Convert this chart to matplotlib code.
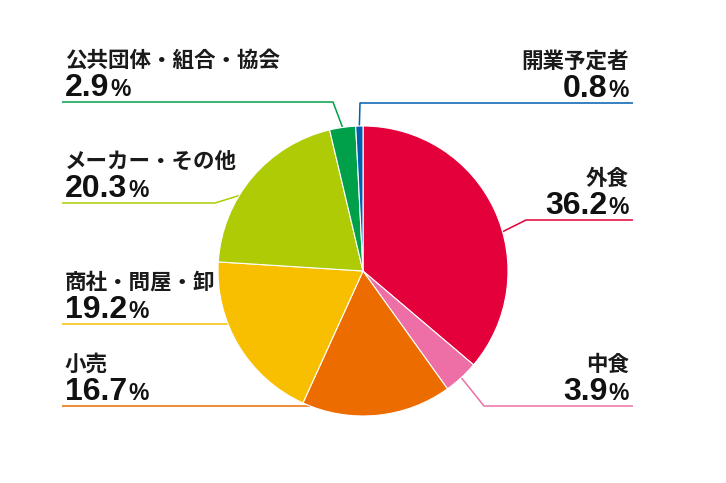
import matplotlib.pyplot as plt
import numpy as np

# Data
labels = ['外食', '中食', '小売', '商社・問屋・卸', 'メーカー・その他', '公共団体・組合・協会', '開業予定者']
shares = [36.2, 3.9, 16.7, 19.2, 20.3, 2.9, 0.8]
colors = ['#e4003a', '#ee6fa5', '#ec6c00', '#f8be00', '#aecb06', '#00a04a', '#005fb0']

# Label layout (pixel coords, top-down): side, leader y, elbow x, where leader meets wedge (0..1 along wedge)
sides = ['right', 'right', 'left', 'left', 'left', 'left', 'right']
line_y = [220, 406, 406, 324, 203, 102, 103]
elbow_x = [526, 484, None, None, 215, 333, 360]
anchor_frac = [0.57, 0.5, 0.95, 0.64, 0.38, 0.5, 0.5]

W, H = 726, 483
left_x, right_x = 62, 633
text_left, text_right = 65, 629


def py(y):
    # pixel row (top-down) -> data y (bottom-up)
    return H - y


fig = plt.figure(figsize=(W / 100, H / 100), dpi=100)
ax = fig.add_axes([0, 0, 1, 1])

wedges, _ = ax.pie(shares, colors=colors, startangle=90, counterclock=False,
                   center=(363, py(271)), radius=145,
                   wedgeprops=dict(edgecolor='white', linewidth=0.8))
ax.set_xlim(0, W)
ax.set_ylim(0, H)
ax.set_aspect('equal')
ax.axis('off')

renderer = fig.canvas.get_renderer()
name_font = dict(family=['Noto Sans CJK JP', 'DejaVu Sans'], fontsize=15.5, weight='bold', color='#1a1a1a')
num_font = dict(family='Liberation Sans', fontsize=23, weight='bold', color='#111111')
pct_font = dict(family='Liberation Sans', fontsize=16.5, weight='bold', color='#111111')

for i, w in enumerate(wedges):
    # point on the wedge rim for the leader line
    t1, t2 = w.theta1, w.theta2
    ang = np.deg2rad(t2 - anchor_frac[i] * (t2 - t1))
    cx, cy = w.center
    ex, ey = cx + w.r * np.cos(ang), cy + w.r * np.sin(ang)

    ly = py(line_y[i])
    x_end = right_x if sides[i] == 'right' else left_x
    if elbow_x[i] is None:
        xs, ys = [x_end, ex], [ly, ly]
    else:
        xs, ys = [x_end, elbow_x[i], ex], [ly, ly, ey]
    ax.plot(xs, ys, color=colors[i], lw=1.1, zorder=0, solid_capstyle='butt')

    name_y = py(line_y[i] - 42)
    base_y = py(line_y[i] - 6)
    num = f'{shares[i]:.1f}'
    if sides[i] == 'right':
        ax.text(text_right, name_y, labels[i], ha='right', va='center', **name_font)
        p = ax.text(text_right, base_y, '%', ha='right', va='baseline', **pct_font)
        bb = p.get_window_extent(renderer)
        ax.text(bb.x0 - 1, base_y, num, ha='right', va='baseline', **num_font)
    else:
        ax.text(text_left, name_y, labels[i], ha='left', va='center', **name_font)
        n = ax.text(text_left, base_y, num, ha='left', va='baseline', **num_font)
        bb = n.get_window_extent(renderer)
        ax.text(bb.x1 + 1, base_y, '%', ha='left', va='baseline', **pct_font)

fig.savefig('out.png', dpi=100)
